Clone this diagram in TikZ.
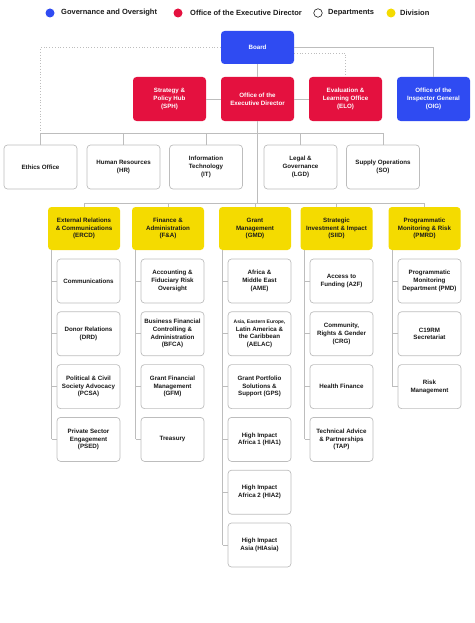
\documentclass[tikz,border=0pt]{standalone}
\usepackage{fontspec}
\setmainfont{Liberation Sans}
\definecolor{govblu}{HTML}{2F4BF2}
\definecolor{edored}{HTML}{E4113F}
\definecolor{divyel}{HTML}{F4DB00}
\definecolor{linegray}{HTML}{BDBDBD}
\definecolor{inkgray}{HTML}{1A1A1A}
\begin{document}
\begin{tikzpicture}[x=1pt,y=-1pt,
	box/.style={rounded corners=3.5pt, align=center, inner sep=1pt,
		font=\bfseries\fontsize{6.2}{7.7}\selectfont},
	gov/.style={box, fill=govblu, text=white, minimum width=73pt, minimum height=44pt},
	edo/.style={box, fill=edored, text=white, minimum width=73pt, minimum height=44pt},
	dept/.style={box, draw=linegray, line width=0.7pt, fill=white, text=inkgray,
		minimum width=73pt, minimum height=44pt},
	divn/.style={box, fill=divyel, text=inkgray, minimum width=72pt, minimum height=43pt},
	sub/.style={dept, minimum width=63pt, minimum height=44pt},
	lien/.style={draw=linegray, line width=0.8pt},
	lienpt/.style={lien, dotted},
	leg/.style={font=\bfseries\fontsize{7.5}{8}\selectfont, text=inkgray, anchor=west, inner sep=0pt},
	dot/.style={circle, minimum size=9pt, inner sep=0pt},
	]
	\useasboundingbox (0,0) rectangle (474,623);
	\def\ya{281}
	\def\pas{52.8}
	
	%% ── legenda ───────────────────────────────────────────
	\node[dot, fill=govblu] (lgov) at (50,13) {};
	\node[leg] (tgov) at (61,13) {Governance and Oversight};
	\node[dot, fill=edored] (ledo) at (178,13) {};
	\node[leg] (tedo) at (190,13) {Office of the Executive Director};
	\node[dot, draw=inkgray, line width=0.6pt, minimum size=8.5pt] (ldept) at (318,13) {};
	\node[leg] (tdept) at (328,13) {Departments};
	\node[dot, fill=divyel] (ldiv) at (391,13) {};
	\node[leg] (tdiv) at (400,13) {Division};
	
	%% ── vertice ───────────────────────────────────────────
	\node[gov, minimum height=33pt] (board) at (257.5,47.5) {Board};
	\node[edo] (sph) at (169.5,99) {Strategy \&\\Policy Hub\\(SPH)};
	\node[edo] (ed) at (257.5,99) {Office of the\\Executive Director};
	\node[edo] (elo) at (345.5,99) {Evaluation \&\\Learning Office\\(ELO)};
	\node[gov] (oig) at (433.5,99) {Office of the\\Inspector General\\(OIG)};
	
	%% ── dipartimenti ──────────────────────────────────────
	\node[dept] (ethics) at (40.5,167) {Ethics Office};
	\node[dept] (hr) at (123.5,167) {Human Resources\\(HR)};
	\node[dept] (it) at (206,167) {Information\\Technology\\(IT)};
	\node[dept] (lgd) at (300.5,167) {Legal \&\\Governance\\(LGD)};
	\node[dept] (so) at (383,167) {Supply Operations\\(SO)};
	
	%% ── divisioni ─────────────────────────────────────────
	\node[divn] (ercd) at (84,228.5) {External Relations\\\& Communications\\(ERCD)};
	\node[divn] (fa) at (168,228.5) {Finance \&\\Administration\\(F\&A)};
	\node[divn] (gmd) at (255,228.5) {Grant\\Management\\(GMD)};
	\node[divn] (siid) at (336.5,228.5) {Strategic\\Investment \& Impact\\(SIID)};
	\node[divn] (pmrd) at (424.5,228.5) {Programmatic\\Monitoring \& Risk\\(PMRD)};
	
	%% ── collegamenti alti ─────────────────────────────────
	\coordinate (busd) at (257.5,133);
	\coordinate (busv) at (257.5,203);
	\coordinate (bd) at (294,53);
	\draw[lien] (board) -- (ed);
	\draw[lien] (sph) -- (ed);
	\draw[lien] (ed) -- (elo);
	\draw[lien] (board.east) -- (oig |- board.east) -- (oig);
	\draw[lienpt] (bd) -- (elo |- bd) -- (elo);
	\draw[lienpt] (board.west) -- (ethics |- board.west) -- (ethics |- busd);
	\draw[lien] (ed) -- (busv);
	\draw[lien] (ethics |- busd) -- (so |- busd);
	\foreach \n in {ethics,hr,it,lgd,so}
	\draw[lien] (\n |- busd) -- (\n);
	\draw[lien] (ercd |- busv) -- (pmrd |- busv);
	\foreach \n in {ercd,fa,gmd,siid,pmrd}
	\draw[lien] (\n |- busv) -- (\n);
	
	%% ── uffici delle divisioni ────────────────────────────
	\foreach \t [count=\i] in {{Communications},{Donor Relations\\(DRD)},
		{Political \& Civil\\Society Advocacy\\(PCSA)},{Private Sector\\Engagement\\(PSED)}}
	\node[sub] (ercd\i) at (88.5,{\ya+\pas*(\i-1)}) {\t};
	\foreach \t [count=\i] in {{Accounting \&\\Fiduciary Risk\\Oversight},
		{Business Financial\\Controlling \&\\Administration\\(BFCA)},
		{Grant Financial\\Management\\(GFM)},{Treasury}}
	\node[sub] (fa\i) at (172.5,{\ya+\pas*(\i-1)}) {\t};
	\foreach \t [count=\i] in {{Africa \&\\Middle East\\(AME)},
		{\fontsize{5}{6.3}\selectfont Asia, Eastern Europe,\\Latin America \&\\the Caribbean\\(AELAC)},
		{Grant Portfolio\\Solutions \&\\Support (GPS)},{High Impact\\Africa 1 (HIA1)},
		{High Impact\\Africa 2 (HIA2)},{High Impact\\Asia (HIAsia)}}
	\node[sub] (gmd\i) at (259.5,{\ya+\pas*(\i-1)}) {\t};
	\foreach \t [count=\i] in {{Access to\\Funding (A2F)},{Community,\\Rights \& Gender\\(CRG)},
		{Health Finance},{Technical Advice\\\& Partnerships\\(TAP)}}
	\node[sub] (siid\i) at (341.5,{\ya+\pas*(\i-1)}) {\t};
	\foreach \t [count=\i] in {{Programmatic\\Monitoring\\Department (PMD)},
		{C19RM\\Secretariat},{Risk\\Management}}
	\node[sub] (pmrd\i) at (429.5,{\ya+\pas*(\i-1)}) {\t};
	
	%% ── dorsali ───────────────────────────────────────────
	\foreach \n/\k in {ercd/4,fa/4,gmd/6,siid/4,pmrd/3} {
		\draw[lien] ([xshift=-5pt]\n1.west |- \n.south) -- ([xshift=-5pt]\n\k.west);
		\foreach \i in {1,...,\k}
		\draw[lien] ([xshift=-5pt]\n\i.west) -- (\n\i.west);
	}
	
\end{tikzpicture}
\end{document}
